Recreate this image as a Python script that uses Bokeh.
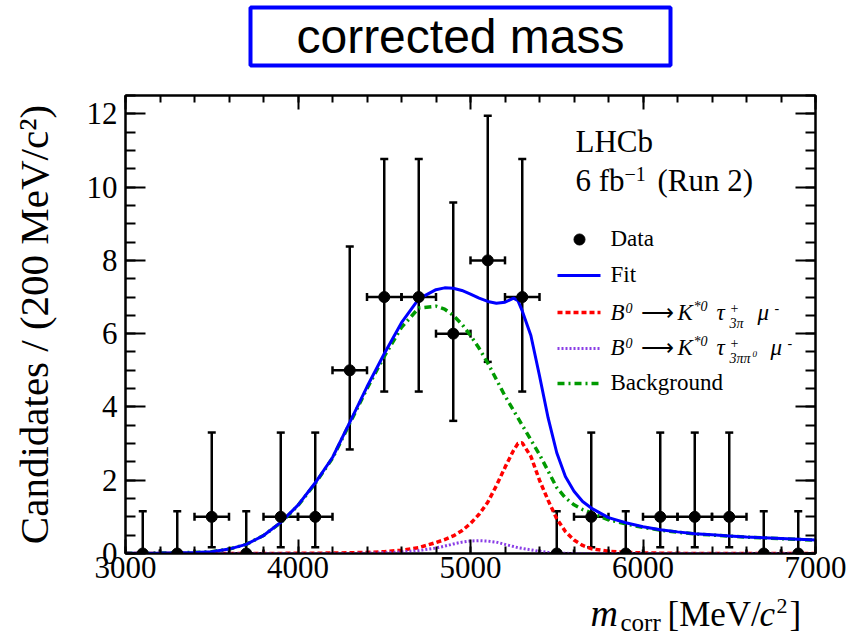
from bokeh.plotting import figure
from bokeh.layouts import column
from bokeh.models import (ColumnDataSource, Whisker, TeeHead, LinearAxis, Range1d,
                          SingleIntervalTicker, CustomJSTickFormatter)
from bokeh.core.properties import value
from bokeh.embed import file_html
from bokeh.resources import INLINE

# ---- binned data: 200 MeV/c^2 bins of corrected mass ----
bin_centres = [3100, 3300, 3500, 3700, 3900, 4100, 4300, 4500, 4700, 4900,
               5100, 5300, 5500, 5700, 5900, 6100, 6300, 6500, 6700, 6900]
counts = [0, 0, 1, 0, 1, 1, 5, 7, 7, 6, 8, 7, 0, 1, 0, 1, 1, 1, 0, 0]
# asymmetric Poisson uncertainties
err_low = [0, 0, 0.83, 0, 0.83, 0.83, 2.16, 2.58, 2.58, 2.38,
           2.77, 2.58, 0, 0.83, 0, 0.83, 0.83, 0.83, 0, 0]
err_high = [1.15, 1.15, 2.30, 1.15, 2.30, 2.30, 3.38, 3.77, 3.77, 3.58,
            3.95, 3.77, 1.15, 2.30, 1.15, 2.30, 2.30, 2.30, 1.15, 1.15]
bin_width = 200

# ---- fit model curves ----
mass_grid = [3000, 3100, 3200, 3300, 3400, 3500, 3600, 3700, 3800, 3900,
             4000, 4100, 4200, 4300, 4400, 4500, 4600, 4700, 4800,
             4850, 4900, 4950, 5000, 5050, 5100, 5150, 5200, 5250, 5275,
             5300, 5350, 5400, 5450, 5500, 5550, 5600, 5650, 5700,
             5800, 5900, 6000, 6100, 6200, 6300, 6400, 6500, 6600, 6700, 6800, 6900, 7000]
fit_total = [0.005, 0.008, 0.012, 0.02, 0.03, 0.05, 0.12, 0.25, 0.49, 0.85,
             1.32, 1.93, 2.62, 3.58, 4.55, 5.45, 6.30, 6.95, 7.20,
             7.25, 7.24, 7.18, 7.08, 6.97, 6.88, 6.83, 6.86, 6.97, 6.90,
             6.62, 5.95, 4.85, 3.70, 2.75, 2.10, 1.70, 1.42, 1.24,
             0.98, 0.84, 0.73, 0.65, 0.59, 0.54, 0.51, 0.48, 0.45, 0.43, 0.41, 0.39, 0.37]
sig_3pi = [0, 0, 0, 0, 0, 0, 0, 0, 0, 0.003,
           0.005, 0.008, 0.012, 0.02, 0.03, 0.05, 0.09, 0.16, 0.30,
           0.38, 0.48, 0.62, 0.82, 1.07, 1.40, 1.85, 2.35, 2.82, 3.00,
           3.02, 2.65, 2.00, 1.45, 0.95, 0.60, 0.37, 0.22, 0.13,
           0.06, 0.03, 0.015, 0.01, 0.005, 0, 0, 0, 0, 0, 0, 0, 0]
sig_3pipi0 = [0, 0, 0, 0, 0, 0, 0, 0, 0, 0,
              0, 0, 0, 0, 0.01, 0.02, 0.04, 0.08, 0.15,
              0.20, 0.26, 0.31, 0.34, 0.35, 0.34, 0.31, 0.25, 0.19, 0.16,
              0.14, 0.10, 0.06, 0.03, 0.015, 0.005, 0, 0, 0,
              0, 0, 0, 0, 0, 0, 0, 0, 0, 0, 0, 0, 0]
background = [0.005, 0.008, 0.012, 0.02, 0.03, 0.05, 0.12, 0.25, 0.49, 0.84,
              1.31, 1.91, 2.60, 3.55, 4.50, 5.38, 6.17, 6.70, 6.75,
              6.67, 6.50, 6.26, 5.95, 5.60, 5.20, 4.75, 4.30, 3.90, 3.70,
              3.50, 3.10, 2.70, 2.25, 1.80, 1.52, 1.33, 1.20, 1.11,
              0.92, 0.81, 0.71, 0.64, 0.58, 0.535, 0.505, 0.475, 0.445, 0.425, 0.405, 0.385, 0.365]

X_MIN, X_MAX, Y_MIN, Y_MAX = 3000, 7000, 0, 12.5

# page geometry (pixels): header strip / main plot / x-axis title strip
WIDTH, HEIGHT = 848, 637
HEAD_H = 70
MAIN_BOTTOM = 592
MAIN_H = MAIN_BOTTOM - HEAD_H
STRIP_H = HEIGHT - MAIN_BOTTOM
FRAME_L, FRAME_R, FRAME_T, FRAME_B = 125, 815, 95, 553
BASELINE_SHIFT = 0.35        # text anchor sits this many em above the drawn baseline


def fx(px):
    return X_MIN + (px - FRAME_L) * (X_MAX - X_MIN) / (FRAME_R - FRAME_L)


def fy(py):
    return Y_MIN + (FRAME_B - py) * (Y_MAX - Y_MIN) / (FRAME_B - FRAME_T)


def anchor(py, size):
    return py - BASELINE_SHIFT * size


SERIF = "Liberation Serif"
BLUE, RED, PURPLE, GREEN = "#0000ff", "#ff0000", "#8a3ee6", "#009a00"


def bare_strip(height):
    f = figure(width=WIDTH, height=height, output_backend="svg", toolbar_location=None,
               x_range=Range1d(X_MIN, X_MAX), y_range=Range1d(0, height),
               x_axis_location=None, y_axis_location=None,
               min_border_left=FRAME_L, min_border_right=WIDTH - FRAME_R,
               min_border_top=0, min_border_bottom=0)
    f.outline_line_color = None
    f.xgrid.visible = False
    f.ygrid.visible = False
    f.background_fill_color = "white"
    f.border_fill_color = "white"
    return f


# ---- header: boxed title ----
head = bare_strip(HEAD_H)
head.quad(left=[fx(250)], right=[fx(670)], top=[HEAD_H - 7], bottom=[HEAD_H - 65],
          fill_color="white", line_color=BLUE, line_width=4)
head.text([fx(460)], [HEAD_H - anchor(53, 48)], text=["corrected mass"],
          text_font=value("Liberation Sans"), text_font_size="48px", text_color="black",
          text_align="center", text_baseline="alphabetic")

# ---- main plot ----
p = figure(width=WIDTH, height=MAIN_H, output_backend="svg", toolbar_location=None,
           x_range=Range1d(X_MIN, X_MAX), y_range=Range1d(Y_MIN, Y_MAX),
           min_border_left=FRAME_L, min_border_right=WIDTH - FRAME_R,
           min_border_top=FRAME_T - HEAD_H, min_border_bottom=MAIN_BOTTOM - FRAME_B)
p.background_fill_color = "white"
p.border_fill_color = "white"
p.outline_line_color = "black"
p.outline_line_width = 2
p.xgrid.visible = False
p.ygrid.visible = False


def style_axis(ax, interval, minor, major_len, minor_len, labels=True):
    ax.ticker = SingleIntervalTicker(interval=interval, num_minor_ticks=minor)
    ax.axis_line_color = "black"
    ax.axis_line_width = 2
    ax.major_tick_line_color = "black"
    ax.minor_tick_line_color = "black"
    ax.major_tick_line_width = 2
    ax.minor_tick_line_width = 2
    ax.major_tick_in = major_len
    ax.major_tick_out = 0
    ax.minor_tick_in = minor_len
    ax.minor_tick_out = 0
    ax.major_label_text_font = SERIF
    ax.major_label_text_font_size = "31px"
    ax.major_label_text_color = "black"
    if not labels:
        ax.formatter = CustomJSTickFormatter(code="return ''")
        ax.major_label_standoff = 0


style_axis(p.xaxis[0], 1000, 5, 14, 7)
p.xaxis[0].major_label_standoff = 3
style_axis(p.yaxis[0], 2, 4, 20, 10)
p.yaxis[0].major_label_standoff = 8
p.yaxis[0].axis_label = "Candidates / (200 MeV/c²)"
p.yaxis[0].axis_label_text_font = SERIF
p.yaxis[0].axis_label_text_font_size = "41px"
p.yaxis[0].axis_label_text_font_style = "normal"
p.yaxis[0].axis_label_text_color = "black"
p.yaxis[0].axis_label_standoff = 27

top_axis = LinearAxis()
style_axis(top_axis, 1000, 5, 14, 7, labels=False)
p.add_layout(top_axis, "above")
right_axis = LinearAxis()
style_axis(right_axis, 2, 4, 20, 10, labels=False)
p.add_layout(right_axis, "right")

# fit components
p.line(mass_grid, background, line_color=GREEN, line_width=3.5, line_dash="7 4 2 4")
p.line(mass_grid, sig_3pi, line_color=RED, line_width=3.5, line_dash="5 3")
p.line(mass_grid, sig_3pipi0, line_color=PURPLE, line_width=3, line_dash="2 2")
p.line(mass_grid, fit_total, line_color=BLUE, line_width=3)

# data points with error bars
data = ColumnDataSource(dict(
    x=bin_centres,
    y=counts,
    lo=[c - e for c, e in zip(counts, err_low)],
    hi=[c + e for c, e in zip(counts, err_high)],
    xlo=[m - bin_width / 2 for m in bin_centres],
    xhi=[m + bin_width / 2 for m in bin_centres],
))
p.add_layout(Whisker(source=data, base="x", lower="lo", upper="hi", dimension="height",
                     line_color="black", line_width=2.5,
                     upper_head=TeeHead(size=8, line_width=2.5, line_color="black"),
                     lower_head=TeeHead(size=8, line_width=2.5, line_color="black")))
p.add_layout(Whisker(source=data, base="y", lower="xlo", upper="xhi", dimension="width",
                     line_color="black", line_width=2.5,
                     upper_head=TeeHead(size=8, line_width=2.5, line_color="black"),
                     lower_head=TeeHead(size=8, line_width=2.5, line_color="black")))
p.scatter("x", "y", source=data, size=11, color="black")

# legend
sx0, sx1 = fx(557), fx(600)
p.scatter([fx(579)], [fy(239)], size=11, color="black")
p.segment([sx0], [fy(275)], [sx1], [fy(275)], line_color=BLUE, line_width=3)
p.segment([sx0], [fy(312)], [sx1], [fy(312)], line_color=RED, line_width=3.5, line_dash="5 3")
p.segment([sx0], [fy(348)], [sx1], [fy(348)], line_color=PURPLE, line_width=3, line_dash="2 2")
p.segment([sx0], [fy(383)], [sx1], [fy(383)], line_color=GREEN, line_width=3.5,
          line_dash="7 4 2 4")

pieces = [
    # (px, baseline py, text, size, style)
    (575, 152, "LHCb", 31, "normal"),
    (575, 191, "6 fb", 31, "normal"),
    (624, 180, "\u22121", 20, "normal"),
    (657, 191, "(Run 2)", 31, "normal"),
    (610, 246, "Data", 23, "normal"),
    (610, 282, "Fit", 23, "normal"),
    (610, 320, "B", 23, "italic"),
    (625, 312, "0", 14, "italic"),
    (640, 320, "\u27f6", 23, "normal"),
    (677, 320, "K", 23, "italic"),
    (693, 311, "*0", 14, "italic"),
    (716, 320, "\u03c4", 23, "italic"),
    (730, 312, "+", 14, "normal"),
    (729, 328, "3\u03c0", 14, "italic"),
    (757, 320, "\u03bc", 23, "italic"),
    (774, 312, "-", 14, "normal"),
    (610, 355, "B", 23, "italic"),
    (625, 347, "0", 14, "italic"),
    (640, 355, "\u27f6", 23, "normal"),
    (677, 355, "K", 23, "italic"),
    (693, 346, "*0", 14, "italic"),
    (716, 355, "\u03c4", 23, "italic"),
    (730, 347, "+", 14, "normal"),
    (729, 363, "3\u03c0\u03c0", 14, "italic"),
    (752, 357, "0", 9, "italic"),
    (770, 355, "\u03bc", 23, "italic"),
    (787, 347, "-", 14, "normal"),
    (610, 390, "Background", 23, "normal"),
]
legend_src = ColumnDataSource(dict(
    x=[fx(px) for px, _, _, _, _ in pieces],
    y=[fy(anchor(py, sz)) for _, py, _, sz, _ in pieces],
    text=[s for _, _, s, _, _ in pieces],
    size=[f"{sz}px" for _, _, _, sz, _ in pieces],
    style=[st for _, _, _, _, st in pieces],
))
p.text("x", "y", text="text", source=legend_src, text_font=value(SERIF),
       text_font_size="size", text_font_style="style", text_color="black",
       text_align="left", text_baseline="alphabetic")

# ---- x-axis title strip (m_corr with subscript, c squared) ----
strip = bare_strip(STRIP_H)
xlabel_parts = [
    # (px, baseline py in page pixels, text, size, style)
    (590, 626, "m", 38, "italic"),
    (620, 631, "corr", 25, "normal"),
    (667, 626, "[MeV/", 35, "normal"),
    (759, 626, "c", 35, "italic"),
    (776, 613, "2", 22, "normal"),
    (789, 626, "]", 35, "normal"),
]
xl_src = ColumnDataSource(dict(
    x=[fx(px) for px, _, _, _, _ in xlabel_parts],
    y=[HEIGHT - anchor(py, sz) for _, py, _, sz, _ in xlabel_parts],
    text=[s for _, _, s, _, _ in xlabel_parts],
    size=[f"{sz}px" for _, _, _, sz, _ in xlabel_parts],
    style=[st for _, _, _, _, st in xlabel_parts],
))
strip.text("x", "y", text="text", source=xl_src, text_font=value(SERIF),
           text_font_size="size", text_font_style="style", text_color="black",
           text_align="left", text_baseline="alphabetic")

page = column(head, p, strip, spacing=0)
open("out.html", "w").write(file_html(page, INLINE))
